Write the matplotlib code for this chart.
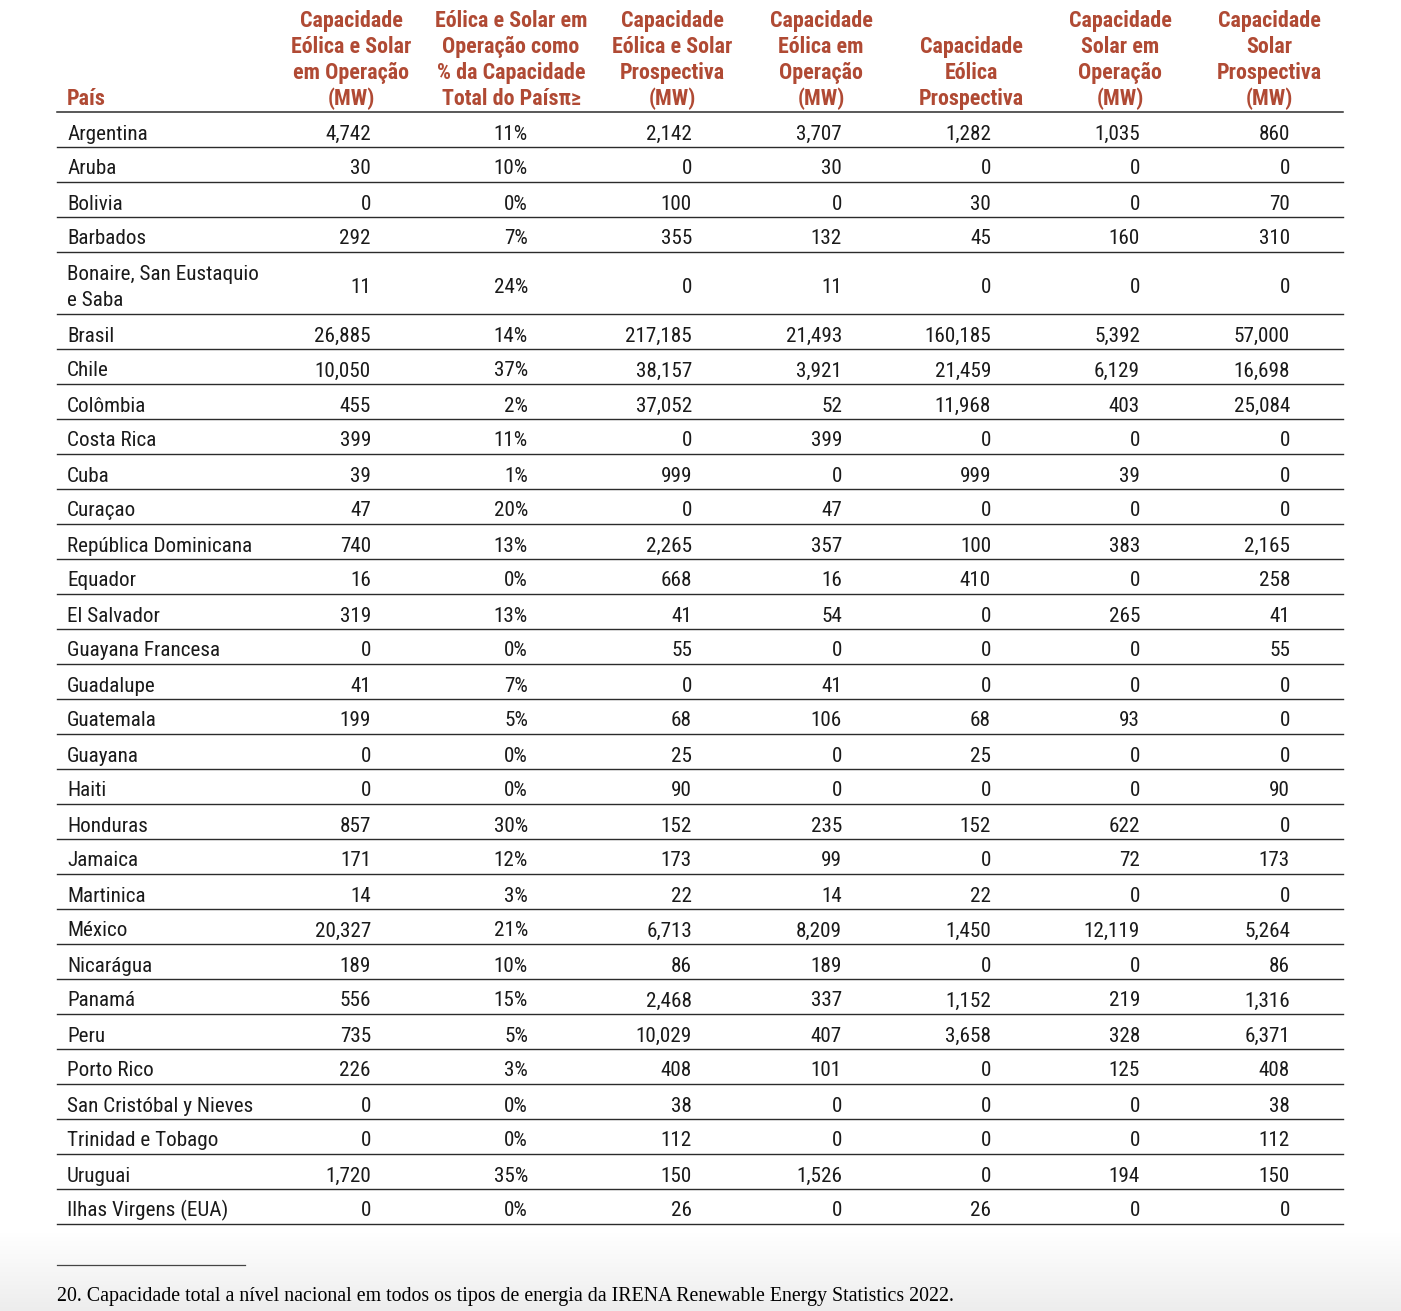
import matplotlib
matplotlib.use("Agg")
import matplotlib.pyplot as plt
from matplotlib import font_manager
import numpy as np

countries = [
    "Argentina", "Aruba", "Bolivia", "Barbados", "Bonaire, San Eustaquio\ne Saba",
    "Brasil", "Chile", "Colômbia", "Costa Rica", "Cuba", "Curaçao",
    "República Dominicana", "Equador", "El Salvador", "Guayana Francesa",
    "Guadalupe", "Guatemala", "Guayana", "Haiti", "Honduras", "Jamaica",
    "Martinica", "México", "Nicarágua", "Panamá", "Peru", "Porto Rico",
    "San Cristóbal y Nieves", "Trinidad e Tobago", "Uruguai", "Ilhas Virgens (EUA)",
]
wind_solar_op = [4742, 30, 0, 292, 11, 26885, 10050, 455, 399, 39, 47, 740, 16, 319, 0,
                 41, 199, 0, 0, 857, 171, 14, 20327, 189, 556, 735, 226, 0, 0, 1720, 0]
share_pct = [11, 10, 0, 7, 24, 14, 37, 2, 11, 1, 20, 13, 0, 13, 0,
             7, 5, 0, 0, 30, 12, 3, 21, 10, 15, 5, 3, 0, 0, 35, 0]
wind_solar_prosp = [2142, 0, 100, 355, 0, 217185, 38157, 37052, 0, 999, 0, 2265, 668, 41, 55,
                    0, 68, 25, 90, 152, 173, 22, 6713, 86, 2468, 10029, 408, 38, 112, 150, 26]
wind_op = [3707, 30, 0, 132, 11, 21493, 3921, 52, 399, 0, 47, 357, 16, 54, 0,
           41, 106, 0, 0, 235, 99, 14, 8209, 189, 337, 407, 101, 0, 0, 1526, 0]
wind_prosp = [1282, 0, 30, 45, 0, 160185, 21459, 11968, 0, 999, 0, 100, 410, 0, 0,
              0, 68, 25, 0, 152, 0, 22, 1450, 0, 1152, 3658, 0, 0, 0, 0, 26]
solar_op = [1035, 0, 0, 160, 0, 5392, 6129, 403, 0, 39, 0, 383, 0, 265, 0,
            0, 93, 0, 0, 622, 72, 0, 12119, 0, 219, 328, 125, 0, 0, 194, 0]
solar_prosp = [860, 0, 70, 310, 0, 57000, 16698, 25084, 0, 0, 0, 2165, 258, 41, 55,
               0, 0, 0, 90, 0, 173, 0, 5264, 86, 1316, 6371, 408, 38, 112, 150, 0]

first_header = "País"
headers = [
    ["Capacidade", "Eólica e Solar", "em Operação", "(MW)"],
    ["Eólica e Solar em", "Operação como", "% da Capacidade", "Total do Paísπ≥"],
    ["Capacidade", "Eólica e Solar", "Prospectiva", "(MW)"],
    ["Capacidade", "Eólica em", "Operação", "(MW)"],
    ["Capacidade", "Eólica", "Prospectiva"],
    ["Capacidade", "Solar em", "Operação", "(MW)"],
    ["Capacidade", "Solar", "Prospectiva", "(MW)"],
]
footnote = ("20. Capacidade total a nível nacional em todos os tipos de energia "
            "da IRENA Renewable Energy Statistics 2022.")

# pick a condensed sans if available
available = {f.name for f in font_manager.fontManager.ttflist}
sans = "Roboto"
for cand in ["Roboto Condensed", "Liberation Sans Narrow", "Roboto"]:
    if cand in available:
        sans = cand
        break
serif = "Liberation Serif" if "Liberation Serif" in available else "DejaVu Serif"
plt.rcParams["font.family"] = [sans, "DejaVu Sans"]

HEAD_COLOR = "#b04a34"
TEXT_COLOR = "#1a1a1a"
LINE_COLOR = "#2b2b2b"
FS = 15.2
HFS = 15.8

W, H = 1401, 1311
fig = plt.figure(figsize=(W / 100, H / 100), dpi=100)
ax = fig.add_axes([0, 0, 1, 1])

# soft grey fade at the bottom of the page
grad = np.linspace(1.0, 0.93, 60).reshape(-1, 1)
ax.imshow(np.dstack([grad, grad, grad]), extent=[0, W, 1311, 1232],
          aspect="auto", zorder=0, interpolation="bilinear")
ax.set_xlim(0, W)
ax.set_ylim(H, 0)
ax.axis("off")

x_left = 57
x_right = 1343
x_name = 67
col_right = [371, 528, 692, 842, 991, 1140, 1290]
col_center = [351, 511, 672, 821, 971, 1120, 1269]

# headers, bottom aligned
head_base = 105
head_step = 26
ax.text(x_name, head_base, first_header, color=HEAD_COLOR, fontsize=HFS,
        fontweight="bold", ha="left", va="baseline")
for cx, lines in zip(col_center, headers):
    n = len(lines)
    for i, line in enumerate(lines):
        ax.text(cx, head_base - (n - 1 - i) * head_step, line, color=HEAD_COLOR,
                fontsize=HFS, fontweight="bold", ha="center", va="baseline")

ax.plot([x_left, x_right], [112, 112], color=LINE_COLOR, lw=1.1)

columns = [wind_solar_op, share_pct, wind_solar_prosp, wind_op,
           wind_prosp, solar_op, solar_prosp]
y = 112
for r, name in enumerate(countries):
    name_lines = name.split("\n")
    nlines = len(name_lines)
    h = 35 if nlines == 1 else 62
    mid = y + h / 2
    if nlines == 1:
        ax.text(x_name, mid + 10, name, color=TEXT_COLOR, fontsize=FS,
                ha="left", va="baseline")
    else:
        for k, part in enumerate(name_lines):
            ax.text(x_name, mid + 10 + (k - (nlines - 1) / 2) * 25, part,
                    color=TEXT_COLOR, fontsize=FS, ha="left", va="baseline")
    for c, (xr, col) in enumerate(zip(col_right, columns)):
        v = col[r]
        s = f"{v}%" if c == 1 else f"{v:,}"
        ax.text(xr, mid + 10, s, color=TEXT_COLOR,
                fontsize=FS, ha="right", va="baseline")
    y += h
    ax.plot([x_left, x_right], [y, y], color=LINE_COLOR, lw=1.0)

# footnote
ax.plot([57, 245], [1265, 1265], color="#444444", lw=0.9)
ft = ax.text(57, 1301, footnote, family=serif, fontsize=13, color="#000000",
             ha="left", va="baseline")
fig.canvas.draw()
bb = ft.get_window_extent(fig.canvas.get_renderer())
ft.set_fontsize(13 * 891 / bb.width)

fig.savefig("out.png", dpi=100)
